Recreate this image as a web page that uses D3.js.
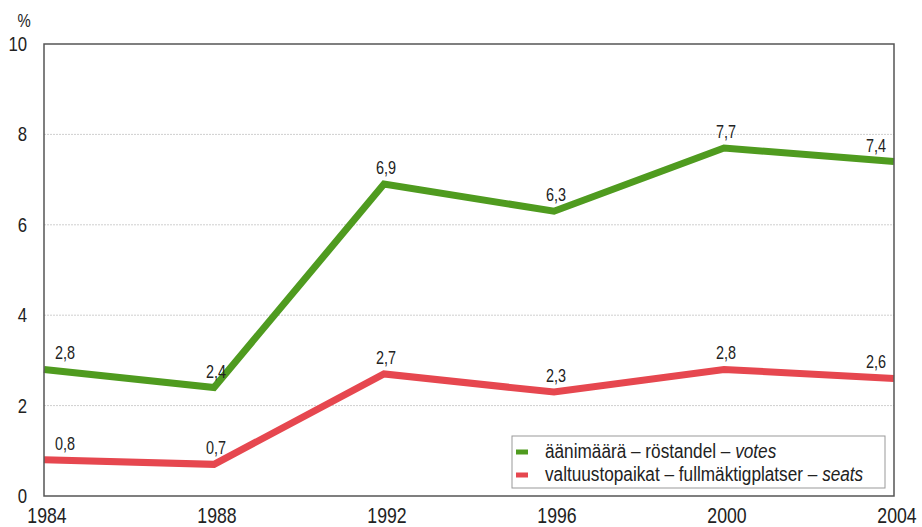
<!DOCTYPE html>
<html>
<head>
<meta charset="utf-8">
<script src="https://cdn.jsdelivr.net/npm/d3@7"></script>
<style>
    body { margin: 0; background: #fff; }
    text { font-family: "Liberation Sans", Arial, sans-serif; fill: #222; }
</style>
</head>
<body>
<svg id="chart" width="922" height="527"></svg>
<script>
// Chart data.
var years = [1984, 1988, 1992, 1996, 2000, 2004];
var votes = [2.8, 2.4, 6.9, 6.3, 7.7, 7.4];
var seats = [0.8, 0.7, 2.7, 2.3, 2.8, 2.6];
var yTicks = [0, 2, 4, 6, 8, 10];
var seriesNames = ["votes", "seats"];
var legendLabels = [
    ["äänimäärä – röstandel – ", "votes"],
    ["valtuustopaikat – fullmäktigplatser – ", "seats"]
];
var seriesColors = { votes: "#4f9b1f", seats: "#e6474f" };

var width = 922;
var height = 527;
var margin = { top: 44, right: 28, bottom: 31, left: 44 };

var svg = d3.select("#chart");

var x = d3.scaleLinear()
    .domain([1984, 2004])
    .range([margin.left, width - margin.right]);
var y = d3.scaleLinear()
    .domain([0, 10])
    .range([height - margin.bottom, margin.top]);

// The printed font is a bit narrower and taller than Liberation Sans.
function stretch(sel, fx, fy) {
    sel.attr("transform", function (d, i) {
        return "translate(" + fx(d, i) + "," + fy(d, i) + ") scale(0.93,1.15)";
    });
}

// Gridlines.
svg.append("g")
    .selectAll("line")
    .data(yTicks.filter(function (d) { return d > 0 && d < 10; }))
    .enter()
    .append("line")
    .attr("x1", margin.left)
    .attr("x2", width - margin.right)
    .attr("y1", function (d) { return y(d); })
    .attr("y2", function (d) { return y(d); })
    .attr("stroke", "#cfcfcf")
    .attr("stroke-width", 1)
    .attr("stroke-dasharray", "2,1");

// Y tick labels.
svg.append("g")
    .selectAll("text")
    .data(yTicks)
    .enter()
    .append("text")
    .attr("text-anchor", "end")
    .style("font-size", "18px")
    .text(function (d) { return d; })
    .call(stretch, function () { return 27; }, function (d) { return y(d) + 7; });

svg.append("text")
    .attr("text-anchor", "middle")
    .style("font-size", "16px")
    .text("%")
    .call(stretch, function () { return 24; }, function () { return 27; });

// X tick labels.
svg.append("g")
    .selectAll("text")
    .data(years)
    .enter()
    .append("text")
    .attr("text-anchor", "middle")
    .style("font-size", "19px")
    .text(function (d) { return d; })
    .call(stretch, function (d) { return x(d) + 3; }, function () { return 523; });

// Lines.
var line = d3.line()
    .x(function (d) { return x(d.year); })
    .y(function (d) { return y(d.value); });

var series = {
    votes: years.map(function (yr, i) { return { year: yr, value: votes[i] }; }),
    seats: years.map(function (yr, i) { return { year: yr, value: seats[i] }; })
};

seriesNames.forEach(function (name) {
    svg.append("path")
        .datum(series[name])
        .attr("d", line)
        .attr("fill", "none")
        .attr("stroke", seriesColors[name])
        .attr("stroke-width", 7)
        .attr("stroke-linejoin", "miter");

    // Value labels.
    svg.append("g")
        .selectAll("text")
        .data(series[name])
        .enter()
        .append("text")
        .attr("text-anchor", function (d, i) {
            if (i == 0) return "start";
            if (i == years.length - 1) return "end";
            return "middle";
        })
        .style("font-size", "15.5px")
        .text(function (d) { return String(d.value).replace(".", ","); })
        .call(stretch, function (d, i) {
            if (i == 0) return x(d.year) + 11;
            if (i == years.length - 1) return x(d.year) - 8;
            return x(d.year) + 2;
        }, function (d) { return y(d.value) - 10; });
});

// Plot frame.
svg.append("rect")
    .attr("x", margin.left)
    .attr("y", margin.top)
    .attr("width", width - margin.left - margin.right)
    .attr("height", height - margin.top - margin.bottom)
    .attr("fill", "none")
    .attr("stroke", "#555")
    .attr("stroke-width", 1.5);

// Legend.
var legend = svg.append("g");
legend.append("rect")
    .attr("x", 512)
    .attr("y", 436)
    .attr("width", 373)
    .attr("height", 52)
    .attr("fill", "#fff")
    .attr("stroke", "#999")
    .attr("stroke-width", 1);

seriesNames.forEach(function (name, i) {
    var ly = 452 + i * 23;
    legend.append("line")
        .attr("x1", 516)
        .attr("x2", 528)
        .attr("y1", ly)
        .attr("y2", ly)
        .attr("stroke", seriesColors[name])
        .attr("stroke-width", 5);
    var t = legend.append("text")
        .style("font-size", "18.5px")
        .attr("transform", "translate(545," + (ly + 6) + ") scale(0.93,1.1)");
    t.append("tspan").text(legendLabels[i][0]);
    t.append("tspan").style("font-style", "italic").text(legendLabels[i][1]);
});
</script>
</body>
</html>
